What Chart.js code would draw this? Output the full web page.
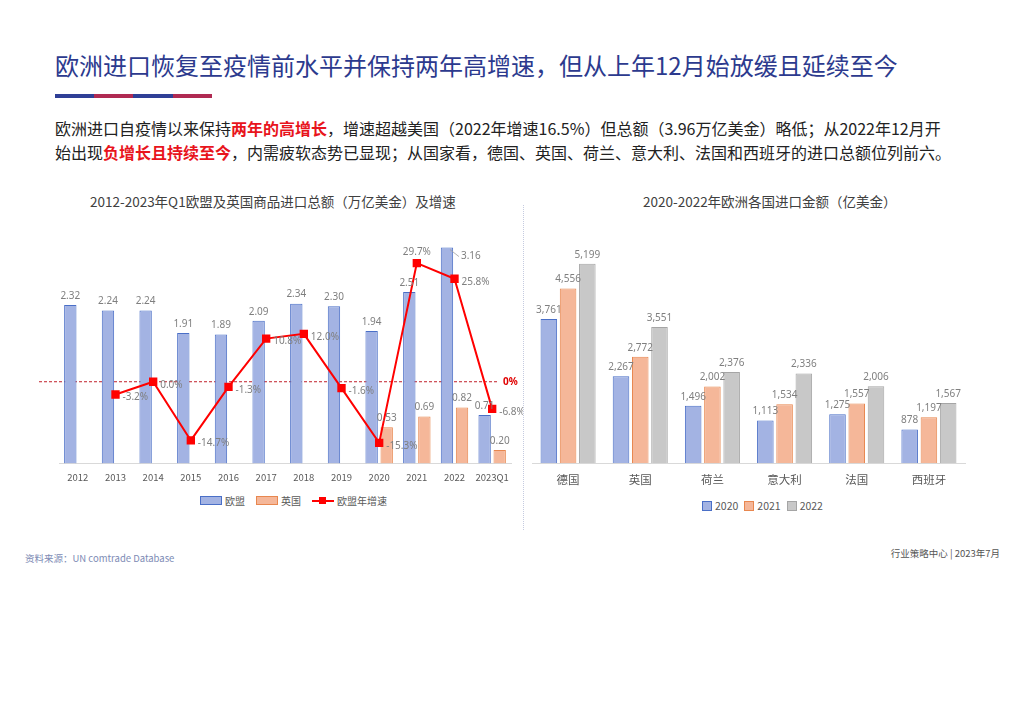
<!DOCTYPE html>
<html>
<head>
<meta charset="utf-8">
<script src="https://cdn.jsdelivr.net/npm/chart.js@4/dist/chart.umd.min.js"></script>
<style>
  body { margin: 0; width: 1024px; height: 724px; background: #fff; position: relative; overflow: hidden;
         font-family: "Noto Sans CJK SC", "Noto Sans", sans-serif; }
  #title { position: absolute; left: 55px; top: 47px; font-size: 24px; color: #2c3a8e; white-space: nowrap; }
  #rule { position: absolute; left: 55px; top: 94px; width: 157px; height: 4px;
          background: linear-gradient(to right, #2f3f96 0 25%, #b02a52 25% 50%, #2f3f96 50% 75%, #b02a52 75% 100%); }
  #para { position: absolute; left: 55px; top: 116px; font-size: 16px; line-height: 24px; color: #222; white-space: nowrap; }
  #para .red { color: #e8141c; font-weight: bold; }
  .ctitle { position: absolute; top: 191px; font-size: 13.5px; color: #404040; white-space: nowrap; }
  .box { position: absolute; }
  .legend { position: absolute; display: flex; align-items: center; font-size: 10px; color: #595959; white-space: nowrap; }
  .legend span.item { display: flex; align-items: center; margin-right: 11px; }
  .legend i { display: inline-block; margin-right: 3px; }
  #sep { position: absolute; left: 523px; top: 205px; height: 325px; border-left: 1px dotted #c5cbe0; }
  .foot { position: absolute; font-size: 9.5px; color: #7d8bb5; white-space: nowrap; }
</style>
</head>
<body>
<div id="title">欧洲进口恢复至疫情前水平并保持两年高增速，但从上年12月始放缓且延续至今</div>
<div id="rule"></div>
<div id="para">欧洲进口自疫情以来保持<span class="red">两年的高增长</span>，增速超越美国（2022年增速16.5%）但总额（3.96万亿美金）略低；从2022年12月开<br>始出现<span class="red">负增长且持续至今</span>，内需疲软态势已显现；从国家看，德国、英国、荷兰、意大利、法国和西班牙的进口总额位列前六。</div>

<div class="ctitle" style="left:90px;">2012-2023年Q1欧盟及英国商品进口总额（万亿美金）及增速</div>
<div class="ctitle" style="left:643px;">2020-2022年欧洲各国进口金额（亿美金）</div>

<div class="box" style="left:38px;top:222px;width:485px;height:261px;"><canvas id="left"></canvas></div>
<div class="box" style="left:530px;top:222px;width:445px;height:267px;"><canvas id="right"></canvas></div>
<div id="sep"></div>

<div class="legend" id="legLeft" style="left:200px;top:493px;"></div>
<div class="legend" id="legRight" style="left:702px;top:498px;font-size:10.5px;"></div>

<div class="foot" style="left:25px;top:551px;">资料来源：UN comtrade Database</div>
<div class="foot" style="right:24px;top:546px;color:#555;">行业策略中心 | 2023年7月</div>

<script>
// left chart data
const years = ['2012', '2013', '2014', '2015', '2016', '2017', '2018', '2019', '2020', '2021', '2022', '2023Q1'];
const euImports = [2.32, 2.24, 2.24, 1.91, 1.89, 2.09, 2.34, 2.30, 1.94, 2.51, 3.16, 0.71];
const ukImports = [null, null, null, null, null, null, null, null, 0.53, 0.69, 0.82, 0.20];
const euGrowth = [null, -3.2, 0.0, -14.7, -1.3, 10.8, 12.0, -1.6, -15.3, 29.7, 25.8, -6.8];

// right chart data
const countries = ['德国', '英国', '荷兰', '意大利', '法国', '西班牙'];
const imp2020 = [3761, 2267, 1496, 1113, 1275, 878];
const imp2021 = [4556, 2772, 2002, 1534, 1557, 1197];
const imp2022 = [5199, 3551, 2376, 2336, 2006, 1567];

Chart.defaults.font.family = '"Noto Sans CJK SC", "Noto Sans", sans-serif';
Chart.defaults.animation = false;

const BLUE = '#a3b3e3', BLUE_B = '#4a6fc7';
const ORANGE = '#f5b799', ORANGE_B = '#e8874f';
const GRAY = '#c8c8c8', GRAY_B = '#a5a5a5';
const RED = '#ff0000';

function fmt(v, type) {
  if (type === 'pct') return v.toFixed(1) + '%';
  if (type === 'comma') return v.toLocaleString('en-US');
  return v.toFixed(2);
}

// value labels drawn next to bars and points
const valueLabels = {
  id: 'valueLabels',
  afterDatasetsDraw(chart) {
    const ctx = chart.ctx;
    ctx.save();
    ctx.font = '10px "Noto Sans", sans-serif';
    ctx.fillStyle = '#7f7f7f';
    chart.data.datasets.forEach((ds, i) => {
      const meta = chart.getDatasetMeta(i);
      const vals = ds.data.filter(v => v !== null);
      const maxV = Math.max(...vals);
      meta.data.forEach((el, j) => {
        const v = ds.data[j];
        if (v === null || v === undefined) return;
        const text = fmt(v, ds.labelType);
        if (ds.type === 'line') {
          if (v === maxV) {
            ctx.textAlign = 'center'; ctx.textBaseline = 'bottom';
            ctx.fillText(text, el.x, el.y - 6);
          } else {
            ctx.textAlign = 'left'; ctx.textBaseline = 'middle';
            ctx.fillText(text, el.x + 7, el.y + 3);
          }
        } else if (ds.callout && v === maxV) {
          ctx.strokeStyle = '#a0a0a0'; ctx.lineWidth = 0.8;
          ctx.beginPath(); ctx.moveTo(el.x + 3, el.y + 2); ctx.lineTo(el.x + 12, el.y + 9); ctx.stroke();
          ctx.textAlign = 'left'; ctx.textBaseline = 'middle';
          ctx.fillText(text, el.x + 14, el.y + 9);
        } else {
          ctx.textAlign = 'center'; ctx.textBaseline = 'bottom';
          ctx.fillText(text, el.x, el.y - 4);
        }
      });
    });
    ctx.restore();
  }
};

// dashed 0% reference line on the growth axis
const zeroLine = {
  id: 'zeroLine',
  beforeDatasetsDraw(chart) {
    const y = chart.scales.y1.getPixelForValue(0);
    const a = chart.chartArea;
    const ctx = chart.ctx;
    ctx.save();
    ctx.strokeStyle = '#c0202a';
    ctx.lineWidth = 1;
    ctx.setLineDash([3, 2]);
    ctx.beginPath(); ctx.moveTo(a.left - 20, y); ctx.lineTo(a.right - 12, y); ctx.stroke();
    ctx.setLineDash([]);
    ctx.fillStyle = '#e00000';
    ctx.font = 'bold 10px "Noto Sans", sans-serif';
    ctx.textAlign = 'left'; ctx.textBaseline = 'middle';
    ctx.fillText('0%', a.right - 8, y);
    ctx.restore();
  }
};

new Chart(document.getElementById('left'), {
  data: {
    labels: years,
    datasets: [
      { type: 'line', label: '欧盟年增速', data: euGrowth, yAxisID: 'y1', order: 0, labelType: 'pct',
        borderColor: RED, backgroundColor: RED, borderWidth: 2, pointStyle: 'rect', pointRadius: 4.5,
        pointBackgroundColor: RED, pointBorderColor: RED, tension: 0, spanGaps: false },
      { type: 'bar', label: '欧盟', data: euImports, yAxisID: 'y', order: 1, labelType: 'num', callout: true,
        backgroundColor: BLUE, borderColor: BLUE_B, borderWidth: 1,
        categoryPercentage: 0.8, barPercentage: 0.82 },
      { type: 'bar', label: '英国', data: ukImports, yAxisID: 'y', order: 1, labelType: 'num',
        backgroundColor: ORANGE, borderColor: ORANGE_B, borderWidth: 1,
        categoryPercentage: 0.8, barPercentage: 0.82 }
    ]
  },
  options: {
    responsive: true,
    maintainAspectRatio: false,
    layout: { padding: { left: 21, right: 12, top: 16, bottom: 0 } },
    plugins: { legend: { display: false }, tooltip: { enabled: false } },
    scales: {
      x: {
        grid: { display: false },
        border: { color: '#d9d9d9', width: 1 },
        ticks: { color: '#595959', font: { size: 9.5 }, padding: 0, maxRotation: 0, autoSkip: false }
      },
      y: { display: false, min: 0, max: 3.3 },
      y1: { display: false, min: -20.5, max: 36 }
    }
  },
  plugins: [zeroLine, valueLabels]
});

new Chart(document.getElementById('right'), {
  type: 'bar',
  data: {
    labels: countries,
    datasets: [
      { label: '2020', data: imp2020, labelType: 'comma', backgroundColor: BLUE, borderColor: BLUE_B, borderWidth: 1 },
      { label: '2021', data: imp2021, labelType: 'comma', backgroundColor: ORANGE, borderColor: ORANGE_B, borderWidth: 1 },
      { label: '2022', data: imp2022, labelType: 'comma', backgroundColor: GRAY, borderColor: GRAY_B, borderWidth: 1 }
    ]
  },
  options: {
    responsive: true,
    maintainAspectRatio: false,
    datasets: { bar: { categoryPercentage: 0.8, barPercentage: 0.86 } },
    layout: { padding: { left: 2, right: 10, top: 11, bottom: 0 } },
    plugins: { legend: { display: false }, tooltip: { enabled: false } },
    scales: {
      x: {
        grid: { display: false },
        border: { color: '#d9d9d9', width: 1 },
        ticks: { color: '#595959', font: { size: 11.5 }, padding: 2 }
      },
      y: { display: false, min: 0, max: 6000 }
    }
  },
  plugins: [valueLabels]
});

// html legends
document.getElementById('legLeft').innerHTML =
  `<span class="item"><i style="width:20px;height:7px;background:${BLUE};border:1px solid ${BLUE_B}"></i>欧盟</span>` +
  `<span class="item"><i style="width:20px;height:7px;background:${ORANGE};border:1px solid ${ORANGE_B}"></i>英国</span>` +
  `<span class="item"><i style="width:22px;height:9px;position:relative;background:linear-gradient(${RED},${RED}) center/22px 2px no-repeat"><b style="position:absolute;left:7px;top:1px;width:7px;height:7px;background:${RED}"></b></i>欧盟年增速</span>`;
document.getElementById('legRight').innerHTML = ['2020', '2021', '2022'].map((y, k) => {
  const c = [[BLUE, BLUE_B], [ORANGE, ORANGE_B], [GRAY, GRAY_B]][k];
  return `<span class="item" style="margin-right:6px"><i style="width:8px;height:8px;background:${c[0]};border:1px solid ${c[1]}"></i>${y}</span>`;
}).join('');
</script>
</body>
</html>
